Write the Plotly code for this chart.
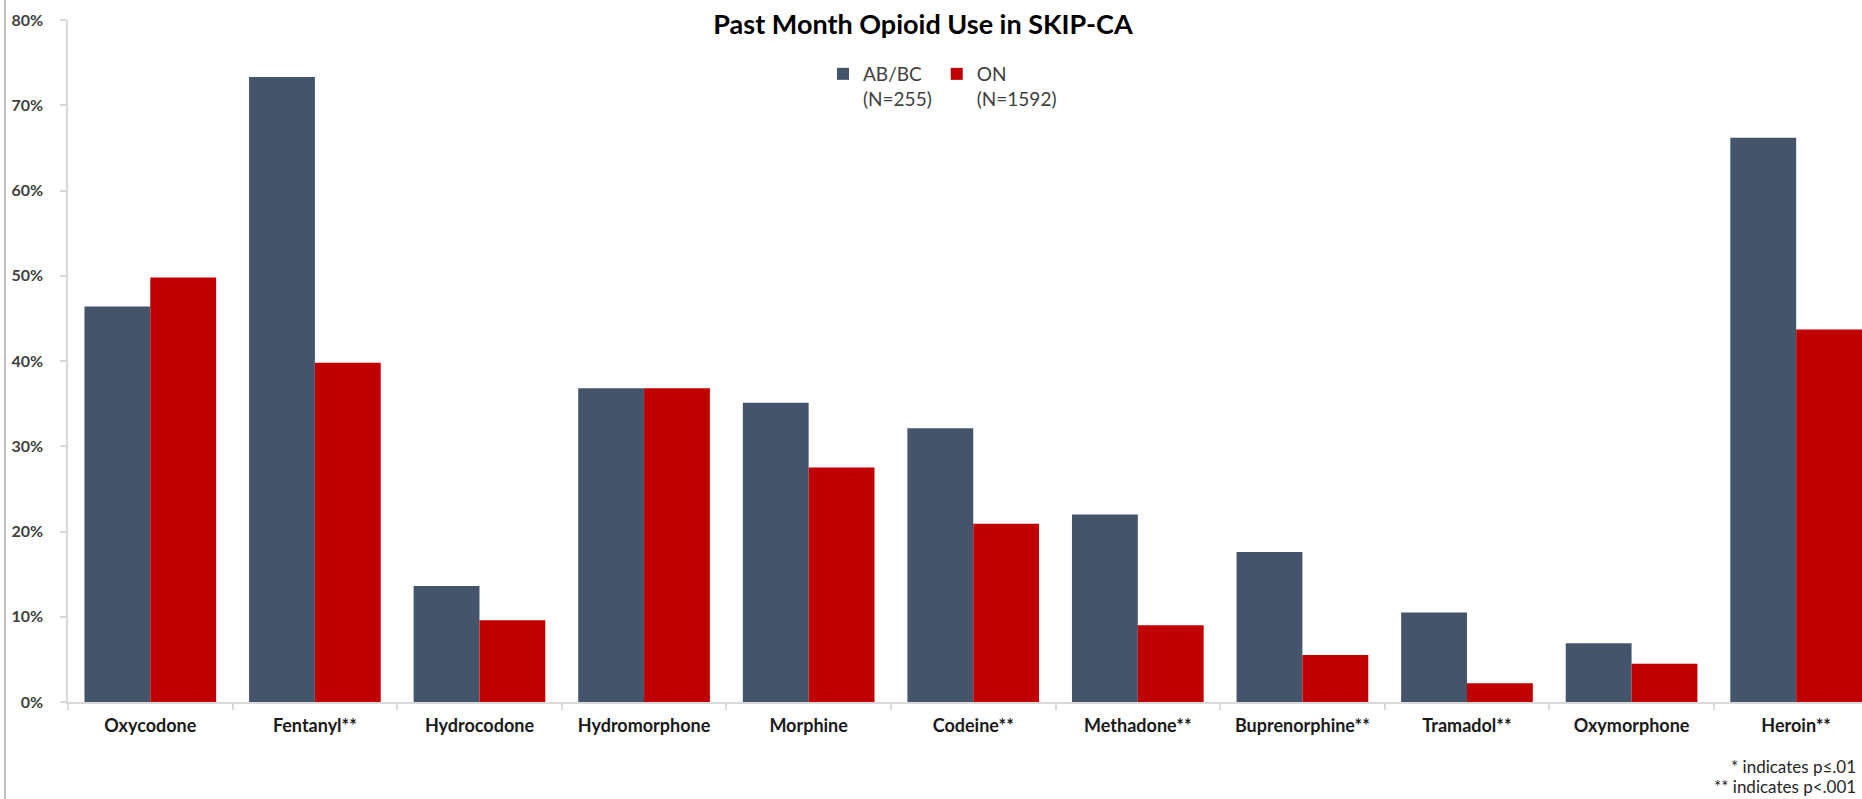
import plotly.graph_objects as go

categories = ["Oxycodone", "Fentanyl**", "Hydrocodone", "Hydromorphone", "Morphine",
              "Codeine**", "Methadone**", "Buprenorphine**", "Tramadol**", "Oxymorphone", "Heroin**"]
ab_bc = [46.4, 73.3, 13.6, 36.8, 35.1, 32.1, 22.0, 17.6, 10.5, 6.9, 66.2]
on = [49.8, 39.8, 9.6, 36.8, 27.5, 20.9, 9.0, 5.5, 2.2, 4.5, 43.7]
series_names = ["AB/BC<br>(N=255)", "ON<br>(N=1592)"]
y_ticks = [0, 10, 20, 30, 40, 50, 60, 70, 80]
y_tick_labels = [f"{v}%" for v in y_ticks]

W, H = 1862, 799
ML, MR, MT, MB = 68, 0, 20, 97
PW, PH = W - ML - MR, H - MT - MB

fig = go.Figure()
fig.add_trace(go.Bar(x=categories, y=ab_bc, name=series_names[0], marker_color="#44546A",
                     marker_line_width=0))
fig.add_trace(go.Bar(x=categories, y=on, name=series_names[1], marker_color="#C00000",
                     marker_line_width=0))

font_family = "Lato, 'Open Sans', sans-serif"

fig.update_layout(
    width=W, height=H,
    margin=dict(l=ML, r=MR, t=MT, b=MB, pad=0),
    paper_bgcolor="white", plot_bgcolor="white",
    barmode="group", bargap=0.2, bargroupgap=0,
    font=dict(family=font_family, color="#262626"),
    title=dict(text="<b>Past Month Opioid Use in SKIP-CA</b>", x=923 / W, xanchor="center",
               y=1 - 25 / H, yanchor="middle", xref="container", yref="container",
               font=dict(size=27, color="#000000", family=font_family)),
    legend=dict(orientation="h", x=(829 - 6 - ML) / PW, xanchor="left",
                y=1 - (55 - MT) / PH, yanchor="top", valign="top",
                font=dict(size=19, color="#404040"), itemwidth=30, tracegroupgap=0,
                bgcolor="rgba(0,0,0,0)"),
    showlegend=True,
)

fig.update_xaxes(
    type="category", range=[-0.5, 10.4],
    showline=True, linecolor="#d9d9d9", linewidth=1.5,
    ticks="outside", ticklen=6, tickcolor="#d9d9d9", tickwidth=1.5, tickson="boundaries",
    showgrid=False, zeroline=False,
    tickfont=dict(size=18, color="#1a1a1a", family=font_family, weight="bold"),
    ticklabelstandoff=7,
)
fig.update_yaxes(
    range=[0, 80], tickmode="array", tickvals=y_ticks, ticktext=y_tick_labels,
    showline=True, linecolor="#d9d9d9", linewidth=1.5,
    ticks="outside", ticklen=6, tickcolor="#d9d9d9", tickwidth=1.5,
    showgrid=False, zeroline=False,
    tickfont=dict(size=16, color="#404040", family=font_family, weight="bold"),
    ticklabelstandoff=14,
)

# left frame line of the original image
fig.add_shape(type="line", xref="paper", yref="paper",
              x0=(5 - ML) / PW, x1=(5 - ML) / PW, y0=-MB / PH, y1=1 + MT / PH,
              line=dict(color="#bfbfbf", width=2))

footnotes = ["* indicates p\u2264.01", "** indicates p<.001"]
for i, txt in enumerate(footnotes):
    fig.add_annotation(text=txt, xref="paper", yref="paper", x=(1858 - ML) / PW, xanchor="right",
                       y=-(767 + 20 * i - MT - PH) / PH, yanchor="middle", showarrow=False,
                       font=dict(size=17, color="#262626", family=font_family))

fig.write_html("out.html", config={"displayModeBar": False},
               post_script="document.body.style.margin='0';document.body.style.overflow='hidden';")
